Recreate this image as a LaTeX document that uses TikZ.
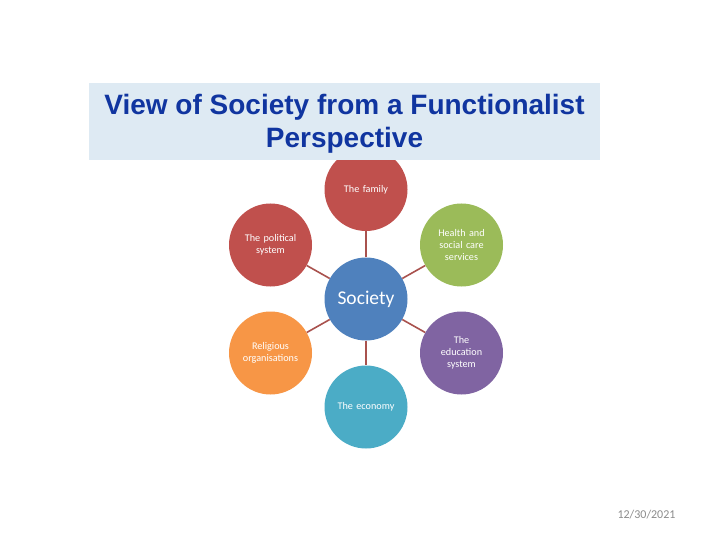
\documentclass[tikz,border=0pt]{standalone}
\usepackage{fontspec}
\setmainfont{Carlito}
\newfontfamily\titlefont{Liberation Sans}
\definecolor{cRed}{HTML}{C0504D}
\definecolor{cGreen}{HTML}{9BBB59}
\definecolor{cBlue}{HTML}{4F81BD}
\definecolor{cOrange}{HTML}{F79646}
\definecolor{cPurple}{HTML}{8064A2}
\definecolor{cTeal}{HTML}{4BACC6}
\definecolor{cLink}{HTML}{A9524E}
\definecolor{titleFill}{HTML}{DEEAF3}
\definecolor{titleText}{HTML}{1035A0}
\definecolor{dateGray}{HTML}{8C8C8C}
\begin{document}
\begin{tikzpicture}[x=1pt,y=-1pt,
  bubble/.style={circle,minimum size=83pt,inner sep=0pt,text=white,align=center,
    font=\fontsize{10.2}{11.8}\selectfont,text width=74pt},
  link/.style={draw=cLink,line width=1.6pt}]
\useasboundingbox (0,0) rectangle (720,540);
\fill[white] (0,0) rectangle (720,540);
% circles
\node[bubble,fill=cBlue,font=\fontsize{19.5}{21}\selectfont] (soc) at (366,299) {Society};
\node[bubble,fill=cRed] (fam) at (366,189.5) {The family};
\node[bubble,fill=cRed] (pol) at (270.5,245) {The political\\system};
\node[bubble,fill=cGreen] (hea) at (461.5,245) {Health and\\social care\\services};
\node[bubble,fill=cOrange] (rel) at (270.5,353) {Religious\\organisations};
\node[bubble,fill=cPurple] (edu) at (461.5,353) {The\\education\\system};
\node[bubble,fill=cTeal] (eco) at (366,407) {The economy};
\foreach \n in {fam,pol,hea,rel,edu,eco} \draw[link] (soc) -- (\n);
% title box
\fill[titleFill] (89,83) rectangle (600,160);
\node[text=titleText,align=center,inner sep=0pt,
  font=\titlefont\bfseries\fontsize{28}{33}\selectfont]
  (title) at (344.5,123.5) {View of Society from a Functionalist\\Perspective};
% date
\node[text=dateGray,font=\fontsize{12}{14}\selectfont,inner sep=0pt] (date) at (646.5,515) {12/30/2021};
\end{tikzpicture}
\end{document}
